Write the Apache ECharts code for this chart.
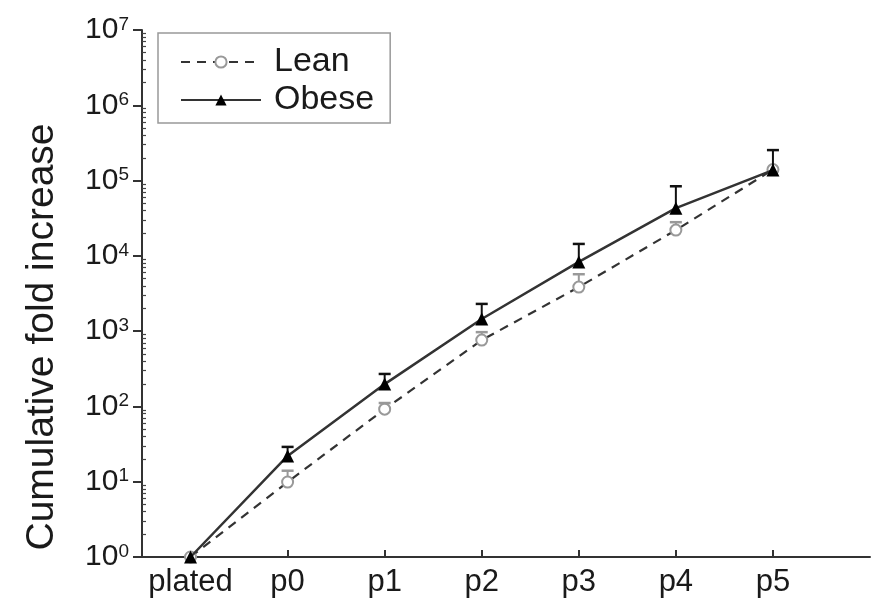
<!DOCTYPE html>
<html>
<head>
<meta charset="utf-8">
<script src="https://cdn.jsdelivr.net/npm/echarts@6/dist/echarts.min.js"></script>
<style>
  html, body { margin: 0; padding: 0; background: #fff; }
  #chart { width: 873px; height: 607px; }
</style>
</head>
<body>
<div id="chart"></div>
<script>
// passages
var categories = ['plated', 'p0', 'p1', 'p2', 'p3', 'p4', 'p5'];
// mean cumulative fold increase
var leanValues = [1, 9.9, 92, 760, 3850, 22000, 140000];
var obeseValues = [1, 22, 198, 1450, 8300, 43000, 138000];
// top of the error bar (mean + SEM)
var leanErrTop = [1, 14, 111, 970, 5700, 28000, 140000];
var obeseErrTop = [1, 29, 270, 2300, 14400, 84000, 254000];
// minor ticks of the log axis
var minorTicks = [];
for (var d = 0; d < 7; d++) {
    for (var k = 2; k < 10; k++) minorTicks.push(k * Math.pow(10, d));
}

var fontFamily = '"Liberation Sans", Arial, sans-serif';
var textColor = '#1a1a1a';

function pairs(vals) {
    return vals.map(function (v, i) { return [i, v]; });
}
function errData(vals, tops) {
    var out = [];
    vals.forEach(function (v, i) {
        if (tops[i] > v) out.push([i, v, tops[i]]);
    });
    return out;
}
// vertical error bar with a cap
function errorBar(color) {
    return function (params, api) {
        var base = api.coord([api.value(0), api.value(1)]);
        var top = api.coord([api.value(0), api.value(2)]);
        var half = 6;
        return {
            type: 'group',
            children: [
                {type: 'line', shape: {x1: base[0], y1: base[1], x2: top[0], y2: top[1]},
                    style: {stroke: color, lineWidth: 2}},
                {type: 'line', shape: {x1: top[0] - half, y1: top[1], x2: top[0] + half, y2: top[1]},
                    style: {stroke: color, lineWidth: 2.5}}
            ]
        };
    };
}

var myChart = echarts.init(document.getElementById('chart'));
var option = {
    backgroundColor: '#fff',
    animation: false,
    textStyle: {fontFamily: fontFamily},
    grid: {left: 142, right: 3, top: 30, bottom: 50, containLabel: false},
    legend: {
        orient: 'vertical',
        left: 158,
        top: 33,
        padding: [12, 16, 6, 22],
        itemGap: 4,
        itemWidth: 80,
        itemHeight: 14,
        borderColor: '#999',
        borderWidth: 1.5,
        data: ['Lean', 'Obese'],
        textStyle: {fontSize: 34, color: textColor, fontFamily: fontFamily, padding: [0, 0, 0, 8]}
    },
    graphic: [{
        type: 'text',
        x: 42,
        y: 337,
        rotation: Math.PI / 2,
        style: {
            text: 'Cumulative fold increase',
            fontSize: 39,
            fontFamily: fontFamily,
            fill: textColor,
            align: 'center',
            verticalAlign: 'middle'
        }
    }],
    xAxis: {
        type: 'value',
        min: -0.5,
        max: 7,
        splitLine: {show: false},
        axisLine: {lineStyle: {color: '#333', width: 2}},
        axisTick: {customValues: [1, 2, 3, 4, 5, 6], inside: true, length: 7, lineStyle: {color: '#333', width: 2}},
        axisLabel: {
            customValues: [0, 1, 2, 3, 4, 5, 6],
            margin: 10,
            fontSize: 31,
            color: textColor,
            fontFamily: fontFamily,
            formatter: function (v) { return categories[Math.round(v)]; }
        }
    },
    yAxis: [{
        type: 'log',
        logBase: 10,
        min: 1,
        max: 1e7,
        splitLine: {show: false},
        axisLine: {show: true, onZero: false, lineStyle: {color: '#333', width: 2}},
        axisTick: {show: true, length: 9, lineStyle: {color: '#333', width: 2}},
        axisLabel: {
            margin: 13,
            color: textColor,
            formatter: function (v) {
                return '{b|10}{s|' + Math.round(Math.log10(v)) + '}';
            },
            rich: {
                b: {fontSize: 30, lineHeight: 30, fontFamily: fontFamily, color: textColor},
                s: {fontSize: 19, lineHeight: 14, verticalAlign: 'top', fontFamily: fontFamily, color: textColor}
            }
        }
    }, {
        type: 'log',
        logBase: 10,
        min: 1,
        max: 1e7,
        position: 'left',
        splitLine: {show: false},
        axisLine: {show: false, onZero: false},
        axisLabel: {show: false},
        axisTick: {show: true, inside: true, length: 4, customValues: minorTicks, lineStyle: {color: '#444', width: 1.2}}
    }],
    series: [
        {
            name: 'Lean',
            type: 'line',
            data: pairs(leanValues),
            symbol: 'emptyCircle',
            symbolSize: 11,
            z: 2,
            lineStyle: {color: '#333', width: 2.2, type: [9, 7]},
            itemStyle: {color: '#999', borderColor: '#999', borderWidth: 1.8}
        },
        {
            name: 'leanErr',
            type: 'custom',
            renderItem: errorBar('#999'),
            data: errData(leanValues, leanErrTop),
            z: 1,
            silent: true
        },
        {
            name: 'Obese',
            type: 'line',
            data: pairs(obeseValues),
            symbol: 'triangle',
            symbolSize: 13,
            z: 4,
            lineStyle: {color: '#333', width: 2.5},
            itemStyle: {color: '#000'}
        },
        {
            name: 'obeseErr',
            type: 'custom',
            renderItem: errorBar('#111'),
            data: errData(obeseValues, obeseErrTop),
            z: 3,
            silent: true
        }
    ]
};
myChart.setOption(option);
</script>
</body>
</html>
